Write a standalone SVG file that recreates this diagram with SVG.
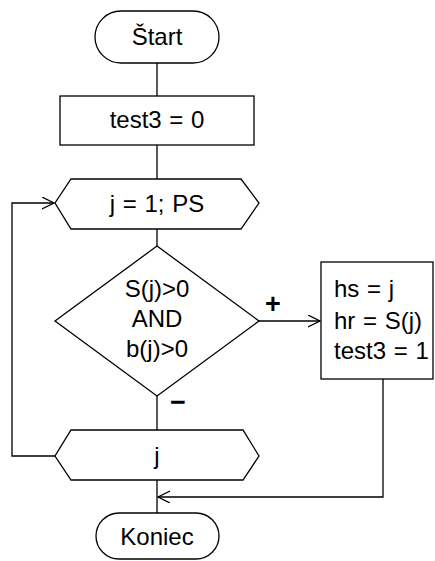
<svg xmlns="http://www.w3.org/2000/svg" width="435" height="561" viewBox="0 0 435 561">
<style>
.s{fill:#fff;stroke:#000;stroke-width:1.3}
.c{fill:none;stroke:#000;stroke-width:1.3}
text{font-family:"Liberation Sans",Arial,sans-serif;font-size:24px;word-spacing:1px;fill:#000}
.m{text-anchor:middle}
.b{font-weight:bold;font-size:27px}
</style>
<defs>
<marker id="a" markerWidth="14" markerHeight="14" refX="12" refY="6" orient="auto" markerUnits="userSpaceOnUse">
<path d="M0,0 L12,6 L0,12" fill="none" stroke="#000" stroke-width="1.3"/>
</marker>
</defs>
<g id="connectors">
<path class="c" d="M157,63 V96"/>
<path class="c" d="M157,145 V179"/>
<path class="c" d="M157,229 V246"/>
<path class="c" d="M157,396 V430"/>
<path class="c" d="M157,480 V513"/>
<path class="c" d="M55,456 H12 V203 H54" marker-end="url(#a)"/>
<path class="c" d="M259,321 H320" marker-end="url(#a)"/>
<path class="c" d="M383,379 V497 H158" marker-end="url(#a)"/>
<text x="273" y="313" class="m b">+</text>
<text x="178" y="411" class="m b">−</text>
</g>
<g id="start">
<rect class="s" x="95" y="11" width="124" height="52" rx="26" ry="26"/>
<text x="157" y="45" class="m">Štart</text>
</g>
<g id="init">
<rect class="s" x="60" y="96" width="194" height="49"/>
<text x="157" y="128" class="m">test3 = 0</text>
</g>
<g id="loopstart">
<polygon class="s" points="71,179 241,179 259,203 241,229 71,229 55,203"/>
<text x="157" y="212" class="m">j = 1; PS</text>
</g>
<g id="decision">
<polygon class="s" points="157,246 259,321 157,396 55,321"/>
<text x="157" y="297" class="m">S(j)&gt;0</text>
<text x="157" y="327" class="m">AND</text>
<text x="157" y="357" class="m">b(j)&gt;0</text>
</g>
<g id="assign">
<rect class="s" x="321" y="262" width="112" height="117"/>
<text x="334" y="297">hs = j</text>
<text x="334" y="329">hr = S(j)</text>
<text x="334" y="359">test3 = 1</text>
</g>
<g id="loopend">
<polygon class="s" points="71,430 243,430 259,456 243,480 71,480 55,456"/>
<text x="157" y="464" class="m">j</text>
</g>
<g id="end">
<rect class="s" x="96" y="513" width="123" height="46" rx="23" ry="23"/>
<text x="157" y="545" class="m">Koniec</text>
</g>
</svg>
